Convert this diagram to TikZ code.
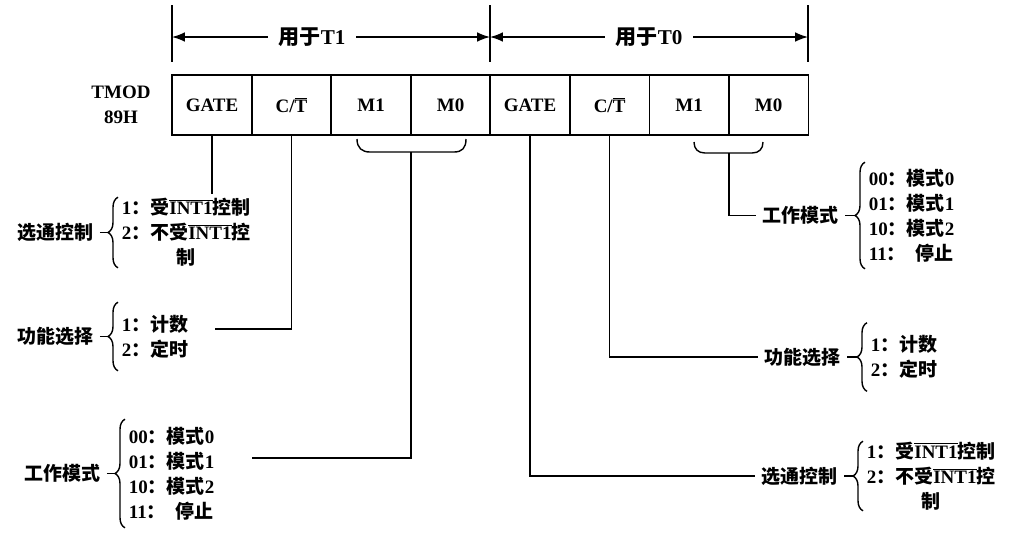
\documentclass[tikz,border=0pt]{standalone}
\usepackage{fontspec}
\setmainfont{Liberation Serif}
\newfontfamily\cjkfont{Noto Sans CJK SC}
\usepackage{tikz}
\usetikzlibrary{arrows.meta, positioning, calc, decorations.pathreplacing}
\newcommand{\zh}[1]{{\cjkfont #1}}
\newcommand{\ovINT}{$\overline{\hbox{INT1}}$}
\newcommand{\ovT}{$\overline{\hbox{T}}$}

\begin{document}
\begin{tikzpicture}[
    x=0.025cm, y=-0.025cm,
    line width=1pt,
    font=\bfseries\fontsize{13.5}{17.8}\selectfont,
    cell/.style={rectangle, draw, line width=1.2pt, minimum width=1.9875cm,
                 minimum height=1.5cm, inner sep=0pt, outer sep=0pt},
    lst/.style={anchor=west, align=left, inner xsep=0.08cm, inner ysep=0pt,
                minimum height=#1},
    ttl/.style={inner xsep=0.15cm, inner ysep=1pt},
    hdr/.style={inner xsep=0.25cm, font=\bfseries\fontsize{15}{18}\selectfont},
    brc/.style={decorate, decoration={brace, amplitude=0.25cm}},
    dim/.style={{Latex[length=3.2mm,width=2.4mm]}-},
]
\useasboundingbox (0,0) rectangle (1016,542);

% TMOD register
\node[align=center] (tmod) at (121,105) {TMOD\\89H};
\node[cell] (gateA) at (212,105) {GATE};
\node[cell, right=0pt of gateA] (ctA) {C/\ovT};
\node[cell, right=0pt of ctA] (mhA) {M1};
\node[cell, right=0pt of mhA] (mlA) {M0};
\node[cell, right=0pt of mlA] (gateB) {GATE};
\node[cell, right=0pt of gateB] (ctB) {C/\ovT};
\node[cell, right=0pt of ctB] (mhB) {M1};
\node[cell, right=0pt of mhB] (mlB) {M0};

% Span markers
\draw (172,5) -- (172,62);
\draw (490,5) -- (490,62);
\draw (808,5) -- (808,62);
\coordinate (dA) at (172,37);
\coordinate (dB) at (490,37);
\coordinate (dC) at (808,37);
\node[hdr] (forA) at (312,37) {\zh{用于}T1};
\node[hdr] (forB) at (649,37) {\zh{用于}T0};
\draw[dim] (dA) -- (forA);
\draw[dim] (dB) -- (forA);
\draw[dim] (dB) -- (forB);
\draw[dim] (dC) -- (forB);

% T1 lists
\node[lst=1.73cm, align=center] (selAlst) at (118,232.5)
    {1\zh{：受}\ovINT\zh{控制}\\2\zh{：不受}\ovINT\zh{控}\\\zh{制}};
\draw[brc] (selAlst.south west) -- (selAlst.north west);
\coordinate (selAtip) at ([xshift=-0.25cm]selAlst.west);
\node[ttl, left=0.2cm of selAtip] (selA) {\zh{选通控制}};
\draw (selA) -- (selAtip);

\node[lst=1.68cm] (fnAlst) at (118,336.5) {1\zh{：计数}\\2\zh{：定时}};
\draw[brc] (fnAlst.south west) -- (fnAlst.north west);
\coordinate (fnAtip) at ([xshift=-0.25cm]fnAlst.west);
\node[ttl, left=0.2cm of fnAtip] (fnA) {\zh{功能选择}};
\draw (fnA) -- (fnAtip);

\node[lst=2.68cm] (mdAlst) at (125,473.5)
    {00\zh{：模式}0\\01\zh{：模式}1\\10\zh{：模式}2\\11\zh{：}\hspace{7pt}\zh{停止}};
\draw[brc] (mdAlst.south west) -- (mdAlst.north west);
\coordinate (mdAtip) at ([xshift=-0.25cm]mdAlst.west);
\node[ttl, left=0.2cm of mdAtip] (mdA) {\zh{工作模式}};
\draw (mdA) -- (mdAtip);

% T0 lists
\node[lst=2.63cm] (mdBlst) at (865,215.5)
    {00\zh{：模式}0\\01\zh{：模式}1\\10\zh{：模式}2\\11\zh{：}\hspace{7pt}\zh{停止}};
\draw[brc] (mdBlst.south west) -- (mdBlst.north west);
\coordinate (mdBtip) at ([xshift=-0.25cm]mdBlst.west);
\node[ttl, left=0.25cm of mdBtip] (mdB) {\zh{工作模式}};
\draw (mdB) -- (mdBtip);

\node[lst=1.68cm] (fnBlst) at (867,357) {1\zh{：计数}\\2\zh{：定时}};
\draw[brc] (fnBlst.south west) -- (fnBlst.north west);
\coordinate (fnBtip) at ([xshift=-0.25cm]fnBlst.west);
\node[ttl, left=0.25cm of fnBtip] (fnB) {\zh{功能选择}};
\draw (fnB) -- (fnBtip);

\node[lst=1.7cm, align=center] (selBlst) at (863,476)
    {1\zh{：受}\ovINT\zh{控制}\\2\zh{：不受}\ovINT\zh{控}\\\zh{制}};
\draw[brc] (selBlst.south west) -- (selBlst.north west);
\coordinate (selBtip) at ([xshift=-0.25cm]selBlst.west);
\node[ttl, left=0.22cm of selBtip] (selB) {\zh{选通控制}};
\draw (selB) -- (selBtip);

% Mode bit brackets
\draw (357,139) .. controls (357,148) and (362,152) .. (370,152) -- (454,152)
      .. controls (462,152) and (466,148) .. (466,139);
\draw (694,142) .. controls (694,149) and (698,153) .. (705,153) -- (752,153)
      .. controls (759,153) and (763,149) .. (763,142);
\coordinate (ubA) at (411,152);
\coordinate (ubB) at (729,153);

% Connections
\coordinate (fnAend) at (215,329);
\coordinate (mdAend) at (252,458);
\draw[shorten >=0.08cm] (gateA) -- (gateA |- selAlst.north);
\draw (ctA) |- (fnAend);
\draw (ubA) |- (mdAend);
\draw (gateB) |- (selB);
\draw (ctB) |- (fnB);
\draw (ubB) |- (mdB);

\end{tikzpicture}
\end{document}
